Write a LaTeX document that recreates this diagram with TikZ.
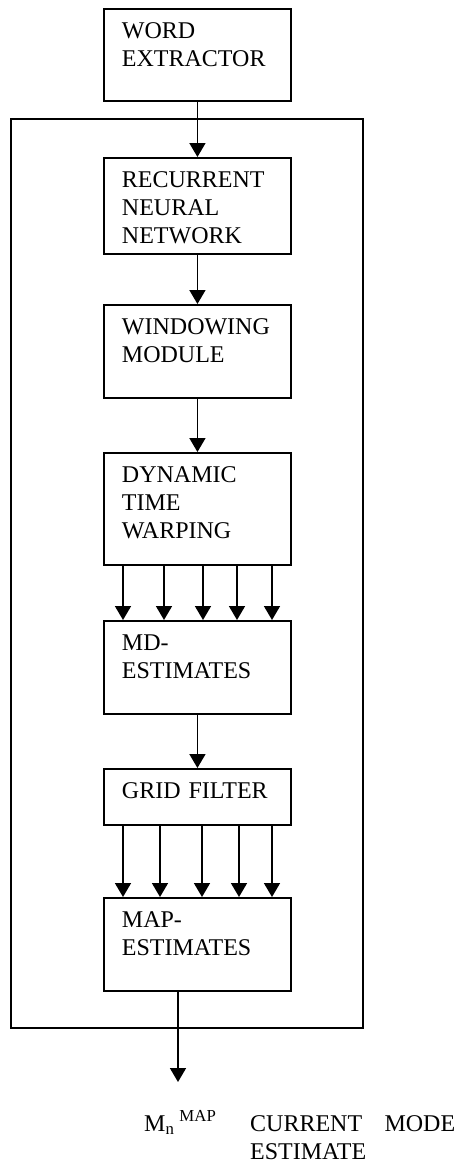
\documentclass[tikz,border=0pt]{standalone}
\usepackage{fontspec}
\setmainfont{Liberation Serif}
\usetikzlibrary{arrows.meta}

\tikzset{
  block/.style={draw,line width=1.9pt,anchor=north west,align=left,
    text width=151pt,inner xsep=18pt,inner ysep=14pt,
    text height=16pt,text depth=#1,
    font=\fontsize{24}{28}\selectfont},
  flow/.style={line width=1.7pt,-{Triangle[length=14pt,width=16pt]}},
  label/.style={anchor=base west,inner sep=0pt,font=\fontsize{24}{28}\selectfont}
}

\begin{document}
\begin{tikzpicture}[x=1pt,y=-1pt]
    \useasboundingbox (0,0) rectangle (459,1165);
    \draw[line width=1.9pt] (11,119) rectangle (363,1028);
    \node (extractor) at (103,8)   [block=48pt] {WORD\\EXTRACTOR};
    \node (rnn)       at (103,157) [block=52pt] {RECURRENT\\NEURAL\\NETWORK};
    \node (window)    at (103,304) [block=49pt] {WINDOWING\\MODULE};
    \node (dtw)       at (103,452) [block=68pt] {DYNAMIC\\TIME\\WARPING};
    \node (mdest)     at (103,620) [block=49pt] {MD-\\ESTIMATES};
    \node (grid)      at (103,768) [block=12pt] {GRID FILTER};
    \node (mapest)    at (103,897) [block=49pt] {MAP-\\ESTIMATES};
    \coordinate (out) at (178,1082);
    \draw[flow] (extractor) -- (rnn);
    \draw[flow] (rnn) -- (window);
    \draw[flow] (window) -- (dtw);
    \draw[flow] ([xshift=20pt]dtw.south west)  -- ([xshift=20pt]mdest.north west);
    \draw[flow] ([xshift=61pt]dtw.south west)  -- ([xshift=61pt]mdest.north west);
    \draw[flow] ([xshift=100pt]dtw.south west) -- ([xshift=100pt]mdest.north west);
    \draw[flow] ([xshift=134pt]dtw.south west) -- ([xshift=134pt]mdest.north west);
    \draw[flow] ([xshift=169pt]dtw.south west) -- ([xshift=169pt]mdest.north west);
    \draw[flow] (mdest) -- (grid);
    \draw[flow] ([xshift=20pt]grid.south west)  -- ([xshift=20pt]mapest.north west);
    \draw[flow] ([xshift=57pt]grid.south west)  -- ([xshift=57pt]mapest.north west);
    \draw[flow] ([xshift=99pt]grid.south west)  -- ([xshift=99pt]mapest.north west);
    \draw[flow] ([xshift=136pt]grid.south west) -- ([xshift=136pt]mapest.north west);
    \draw[flow] ([xshift=169pt]grid.south west) -- ([xshift=169pt]mapest.north west);
    \draw[flow] (mapest.south -| out) -- (out);
    \node (mmap) at (144,1131) [label] {M\textsubscript{n}\kern5pt\textsuperscript{MAP}};
    \node (cme)  at (250,1131) [label,text width=205pt,align=left] {CURRENT\hfill MODE\\ESTIMATE};
\end{tikzpicture}
\end{document}
